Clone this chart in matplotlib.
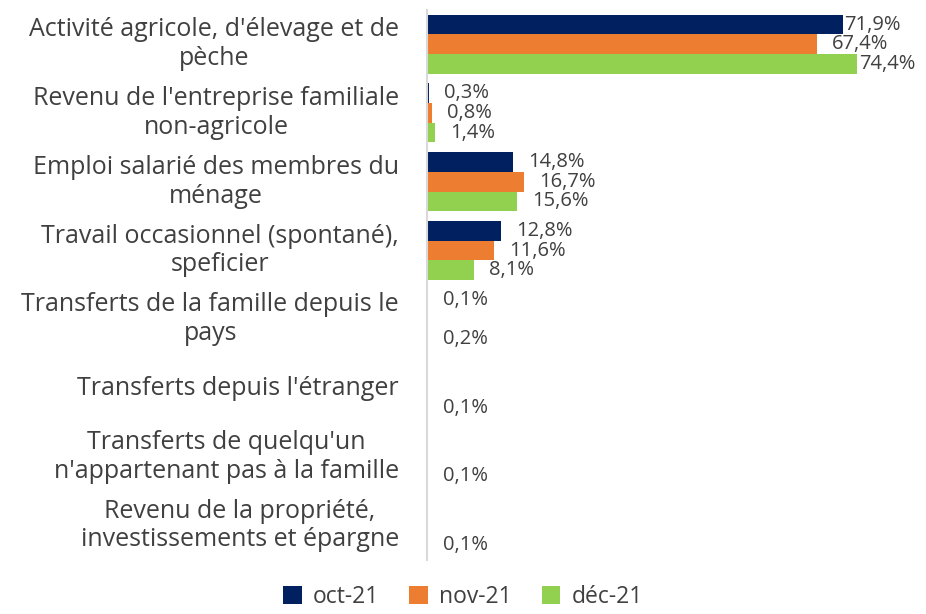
import numpy as np
import matplotlib
matplotlib.use('Agg')
from matplotlib import pyplot as plt

categories = [
    "Activité agricole, d'élevage et de\npèche",
    "Revenu de l'entreprise familiale\nnon-agricole",
    "Emploi salarié des membres du\nménage",
    "Travail occasionnel (spontané),\nspeficier",
    "Transferts de la famille depuis le\npays",
    "Transferts depuis l'étranger",
    "Transferts de quelqu'un\nn'appartenant pas à la famille",
    "Revenu de la propriété,\ninvestissements et épargne",
]
series = ["oct-21", "nov-21", "déc-21"]
oct21 = [71.9, 0.3, 14.8, 12.8, 0.1, np.nan, np.nan, np.nan]
nov21 = [67.4, 0.8, 16.7, 11.6, np.nan, np.nan, np.nan, np.nan]
dec21 = [74.4, 1.4, 15.6, 8.1, 0.2, 0.1, 0.1, 0.1]
colors = ["#002060", "#ED7D31", "#92D050"]


def run_main():
    plt.rcParams['font.family'] = ['Open Sans', 'DejaVu Sans']
    fig = plt.figure(figsize=(9.26, 6.14), dpi=100)
    ax = fig.add_axes([0.461, 0.088, 0.50, 0.896])

    y = np.arange(len(categories))
    h = 0.286
    for i, (name, vals, c) in enumerate(zip(series, [oct21, nov21, dec21], colors)):
        vals = np.array(vals, dtype=float)
        pos = y + (i - 1) * h
        ax.barh(pos, np.nan_to_num(vals), height=h, color=c, label=name)
        for p, v in zip(pos, vals):
            if np.isnan(v):
                continue
            # près du bord droit, l'étiquette colle à la barre (comme Excel)
            dx = 1 if v > 70 else 11
            ax.annotate(f"{v:.1f}%".replace('.', ','), (v, p), xytext=(dx, 0),
                        textcoords='offset points', va='center', ha='left',
                        fontsize=14.5, color='#404040')

    ax.set_ylim(len(categories) - 0.5, -0.5)
    ax.set_xlim(0, 80)
    ax.set_yticks(y)
    ax.set_yticklabels([])
    ax.tick_params(axis='y', length=0)
    # libellés centrés sur plusieurs lignes, alignés à droite
    for yi, cat in zip(y, categories):
        ax.annotate(cat, (0, yi), xytext=(-20, 0), textcoords='offset points',
                    ha='right', va='center', multialignment='center',
                    fontsize=18, color='#404040', linespacing=1.2)
    ax.set_xticks([])
    for s in ['top', 'right', 'bottom']:
        ax.spines[s].set_visible(False)
    ax.spines['left'].set_color('#d9d9d9')
    ax.spines['left'].set_linewidth(1.5)

    fig.legend(loc='lower center', bbox_to_anchor=(0.5, -0.025), ncol=3,
               frameon=False, fontsize=16.5, handlelength=0.8, handleheight=0.8,
               columnspacing=1.3, handletextpad=0.5, labelcolor='#404040')

    fig.savefig('out.png', dpi=100)


if __name__ == '__main__':
    run_main()
